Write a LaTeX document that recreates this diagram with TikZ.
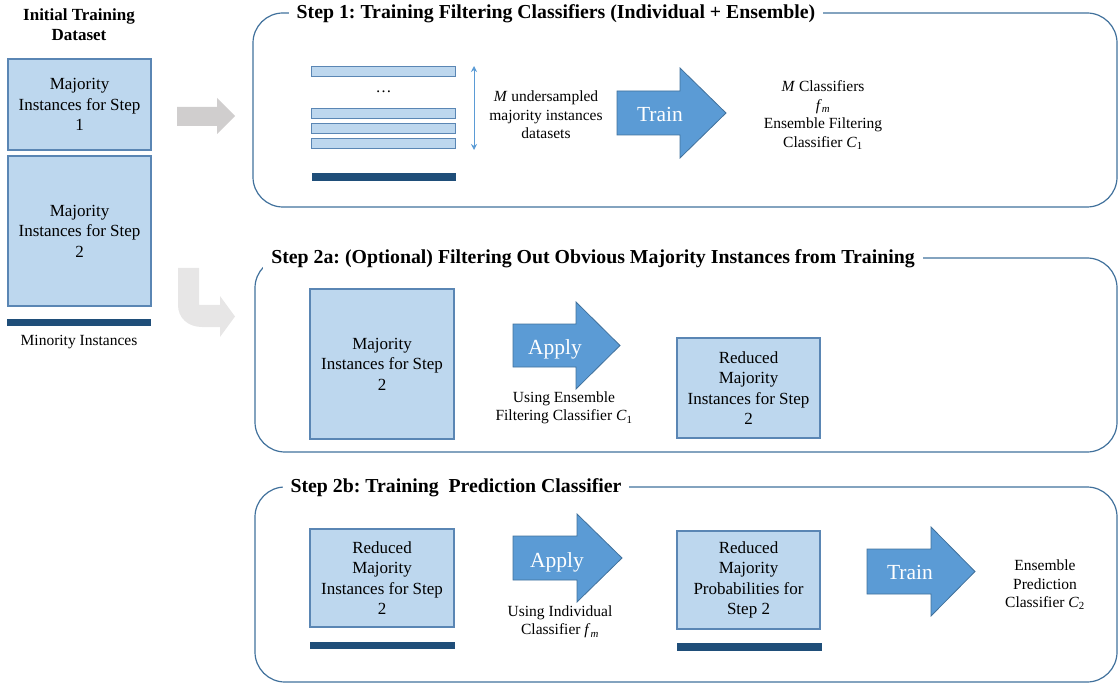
\documentclass[tikz,border=0pt]{standalone}
\usepackage{fontspec}
\setmainfont{Liberation Serif}
\usetikzlibrary{arrows.meta}
\frenchspacing

\definecolor{boxblue}{HTML}{BDD7EE}
\definecolor{boxline}{HTML}{5A86B4}
\definecolor{darkbar}{HTML}{1F4E79}
\definecolor{arrowblue}{HTML}{5B9BD5}
\definecolor{panelline}{HTML}{41719C}
\definecolor{lightgray}{HTML}{D0CECE}
\definecolor{palegray}{HTML}{E7E6E6}

\begin{document}
\begin{tikzpicture}[x=1pt,y=-1pt,
  databox/.style={rectangle,draw=boxline,line width=1.1pt,fill=boxblue,align=center,inner sep=0pt,font=\fontsize{17}{20.5}\selectfont},
  slice/.style={rectangle,draw=boxline,line width=1pt,fill=boxblue,inner sep=0pt,minimum width=144pt,minimum height=10pt},
  bar/.style={rectangle,fill=darkbar,inner sep=0pt},
  panel/.style={draw=panelline,line width=1.2pt,rounded corners=30pt},
  paneltitle/.style={fill=white,inner xsep=8pt,inner ysep=2pt,font=\fontsize{19.8}{23}\selectfont\bfseries},
  blockarrow/.style={fill=arrowblue,draw=panelline,line width=0.8pt},
  arrowlabel/.style={text=white,inner sep=0pt,font=\fontsize{21.5}{24}\selectfont},
  note/.style={align=center,inner sep=0pt,font=\fontsize{15.5}{18.5}\selectfont}]
\useasboundingbox (0,0) rectangle (1118,684);

% initial dataset
\node[align=center,font=\fontsize{17}{20}\selectfont\bfseries] (dataset) at (79,25) {Initial Training\\Dataset};
\node[databox,minimum width=143pt,minimum height=91pt] (maj1) at (79.5,104.5) {Majority\\Instances for Step\\1};
\node[databox,minimum width=143pt,minimum height=150pt] (maj2) at (79.5,231) {Majority\\Instances for Step\\2};
\node[bar,minimum width=144pt,minimum height=7pt] (minbar) at (79,322.5) {};
\node[note] (minlabel) at (79,342) {Minority Instances};

% gray arrows into the steps
\fill[lightgray] (177,107) -- (217,107) -- (217,98) -- (235,116) -- (217,134) -- (217,126) -- (177,126) -- cycle;
\fill[palegray] (178,268) -- (199,268) -- (199,305) -- (220,305) -- (220,296) -- (235,316.5) -- (220,337) -- (220,327)
  -- (202,327) .. controls (188,327) and (178,318) .. (178,305) -- cycle;

% step 1
\draw[panel] (253,13) rectangle (1117,207);
\node[paneltitle] (s1title) at (556,14) {Step 1: Training Filtering Classifiers (Individual + Ensemble)};
\node[slice] (d1) at (383.5,72) {};
\node[font=\fontsize{16}{18}\selectfont] (dots) at (383.5,92) {\dots};
\node[slice] (d2) at (383.5,113.5) {};
\node[slice] (d3) at (383.5,128.5) {};
\node[slice] (d4) at (383.5,143.5) {};
\node[bar,minimum width=144pt,minimum height=8pt] (bar1) at (383.5,177) {};
\coordinate (dtop) at (474,66);
\coordinate (dbot) at (474,150);
\draw[arrowblue,line width=0.9pt,{Stealth[length=6pt,width=6pt]}-{Stealth[length=6pt,width=6pt]}] (dtop) -- (dbot);
\node[note] (msets) at (546,115) {\textit{M} undersampled\\majority instances\\datasets};
\draw[blockarrow] (617,91) -- (680,91) -- (680,68) -- (726,113) -- (680,158) -- (680,135) -- (617,135) -- cycle;
\node[arrowlabel] (train1) at (660,114) {Train};
\node[note] (clf1) at (823,115) {\textit{M} Classifiers\\\textit{f}\textsubscript{\textit{m}}\\Ensemble Filtering\\Classifier \textit{C}\textsubscript{1}};

% step 2a
\draw[panel] (255,258) rectangle (1117,452);
\node[paneltitle] (s2atitle) at (593,259) {Step 2a: (Optional) Filtering Out Obvious Majority Instances from Training};
\node[databox,minimum width=144pt,minimum height=150pt] (maj2a) at (382,364) {Majority\\Instances for Step\\2};
\draw[blockarrow] (513,324) -- (576,324) -- (576,302) -- (620,345.5) -- (576,389) -- (576,367) -- (513,367) -- cycle;
\node[arrowlabel] (apply1) at (555,349) {Apply};
\node[note] (using1) at (564,408) {Using Ensemble\\Filtering Classifier \textit{C}\textsubscript{1}};
\node[databox,minimum width=143pt,minimum height=100pt] (red2a) at (748.5,388) {Reduced\\Majority\\Instances for Step\\2};

% step 2b
\draw[panel] (255,487) rectangle (1117,682);
\node[paneltitle] (s2btitle) at (456,488) {Step 2b: Training\ \ Prediction Classifier};
\node[databox,minimum width=144pt,minimum height=98pt] (red2b) at (382,578) {Reduced\\Majority\\Instances for Step\\2};
\node[bar,minimum width=145pt,minimum height=7pt] (bar2) at (382.5,645.5) {};
\draw[blockarrow] (513,536) -- (577,536) -- (577,514) -- (622,558) -- (577,602) -- (577,580) -- (513,580) -- cycle;
\node[arrowlabel] (apply2) at (557,562) {Apply};
\node[note] (using2) at (560,622) {Using Individual\\Classifier \textit{f}\textsubscript{\textit{m}}};
\node[databox,minimum width=143pt,minimum height=98pt] (prob2b) at (748.5,580) {Reduced\\Majority\\Probabilities for\\Step 2};
\node[bar,minimum width=145pt,minimum height=8pt] (bar3) at (749.5,647) {};
\draw[blockarrow] (867,549) -- (931,549) -- (931,527) -- (975,571.5) -- (931,616) -- (931,594) -- (867,594) -- cycle;
\node[arrowlabel] (train2) at (910,572) {Train};
\node[note] (clf2) at (1045,585) {Ensemble\\Prediction\\Classifier \textit{C}\textsubscript{2}};
\end{tikzpicture}
\end{document}
